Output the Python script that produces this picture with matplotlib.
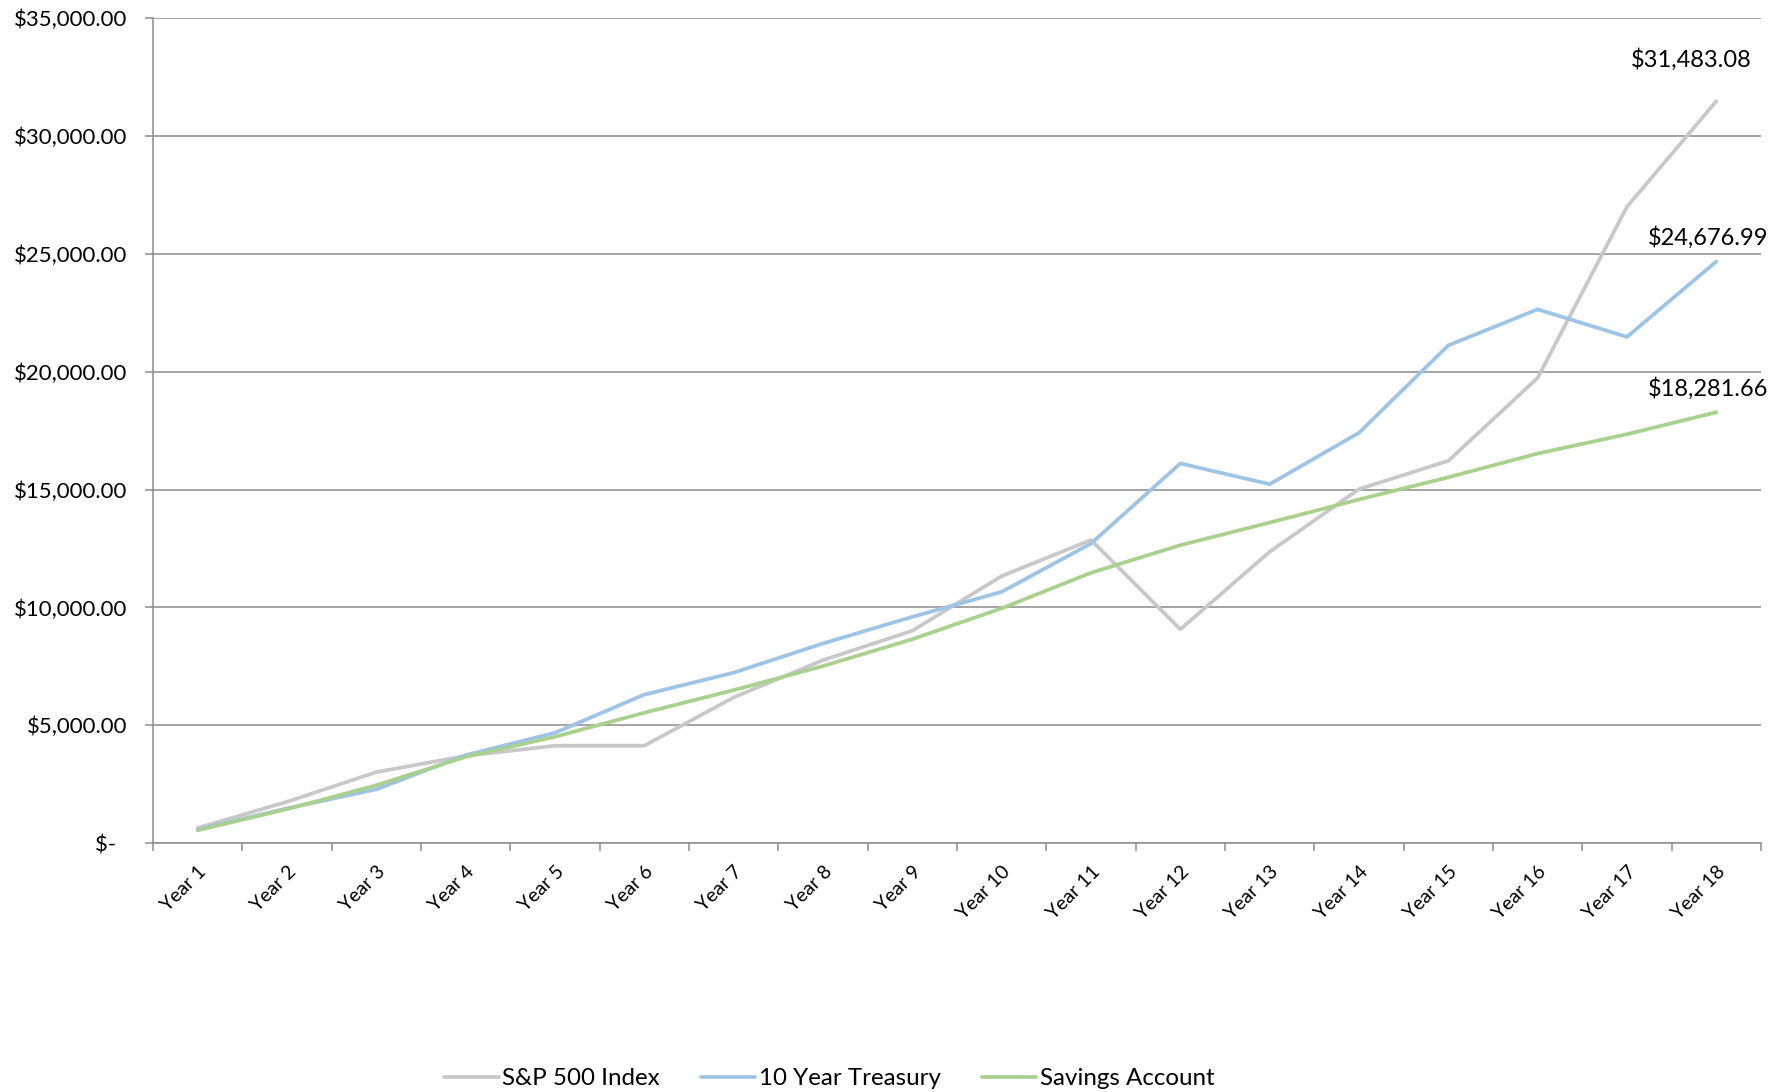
import matplotlib
matplotlib.use('Agg')
import matplotlib.pyplot as plt
from matplotlib.ticker import FuncFormatter, FixedLocator

plt.rcParams['font.family'] = ['Lato', 'DejaVu Sans']

# values
years = ['Year %d' % i for i in range(1, 19)]
sp500 = [640, 1750, 3010, 3700, 4130, 4130, 6180, 7760, 9010, 11330,
         12860, 9070, 12360, 15020, 16220, 19740, 27000, 31483.08]
treasury = [580, 1470, 2280, 3730, 4680, 6300, 7230, 8470, 9600, 10660,
            12710, 16110, 15230, 17410, 21120, 22650, 21480, 24676.99]
savings = [540, 1440, 2450, 3660, 4510, 5530, 6490, 7510, 8650, 9960,
           11470, 12640, 13600, 14580, 15520, 16530, 17350, 18281.66]

series = [('S&P 500 Index', sp500, '#c8c8c8', (-18, 30)),
          ('10 Year Treasury', treasury, '#9dc3e6', (-6, 17.5)),
          ('Savings Account', savings, '#a9d18e', (-6, 17))]

fig = plt.figure(figsize=(17.8, 10.92), dpi=100)
ax = fig.add_axes([0.086, 0.228, 0.9033, 0.7552])

x = list(range(len(years)))
for name, vals, col, off in series:
    ax.plot(x, vals, color=col, linewidth=2.7, label=name, solid_capstyle='round')
    # label on last point
    ax.annotate('${:,.2f}'.format(vals[-1]), (x[-1], vals[-1]),
                xytext=off, textcoords='offset points',
                ha='center', va='center', fontsize=17)

ax.set_xlim(-0.5, len(years) - 0.5)
ax.set_ylim(0, 35000)
ax.set_yticks(range(0, 35001, 5000))
ax.yaxis.set_major_formatter(FuncFormatter(
    lambda v, p: '$-  ' if v == 0 else '${:,.2f}'.format(v)))
ax.grid(axis='y', color='#8c8c8c', linewidth=1.1)
ax.set_axisbelow(True)

ax.set_xticks(x)
ax.set_xticklabels(years, rotation=45, ha='right', rotation_mode='anchor')
ax.xaxis.set_minor_locator(FixedLocator([i - 0.5 for i in range(len(years) + 1)]))
ax.tick_params(axis='x', which='major', length=0, pad=14, labelsize=14)
ax.tick_params(axis='x', which='minor', length=6, color='#8c8c8c', width=1.1)
ax.tick_params(axis='y', length=6, color='#8c8c8c', width=1.1, pad=12.5, labelsize=16)

for s in ['top', 'right']:
    ax.spines[s].set_visible(False)
for s in ['left', 'bottom']:
    ax.spines[s].set_color('#8c8c8c')
    ax.spines[s].set_linewidth(1.1)

fig.legend(loc='center', bbox_to_anchor=(0.466, 0.012), ncol=3, frameon=False,
           fontsize=17.4, handlelength=2.25, columnspacing=1.7, handletextpad=0.15)

fig.savefig('out.png', dpi=100)
